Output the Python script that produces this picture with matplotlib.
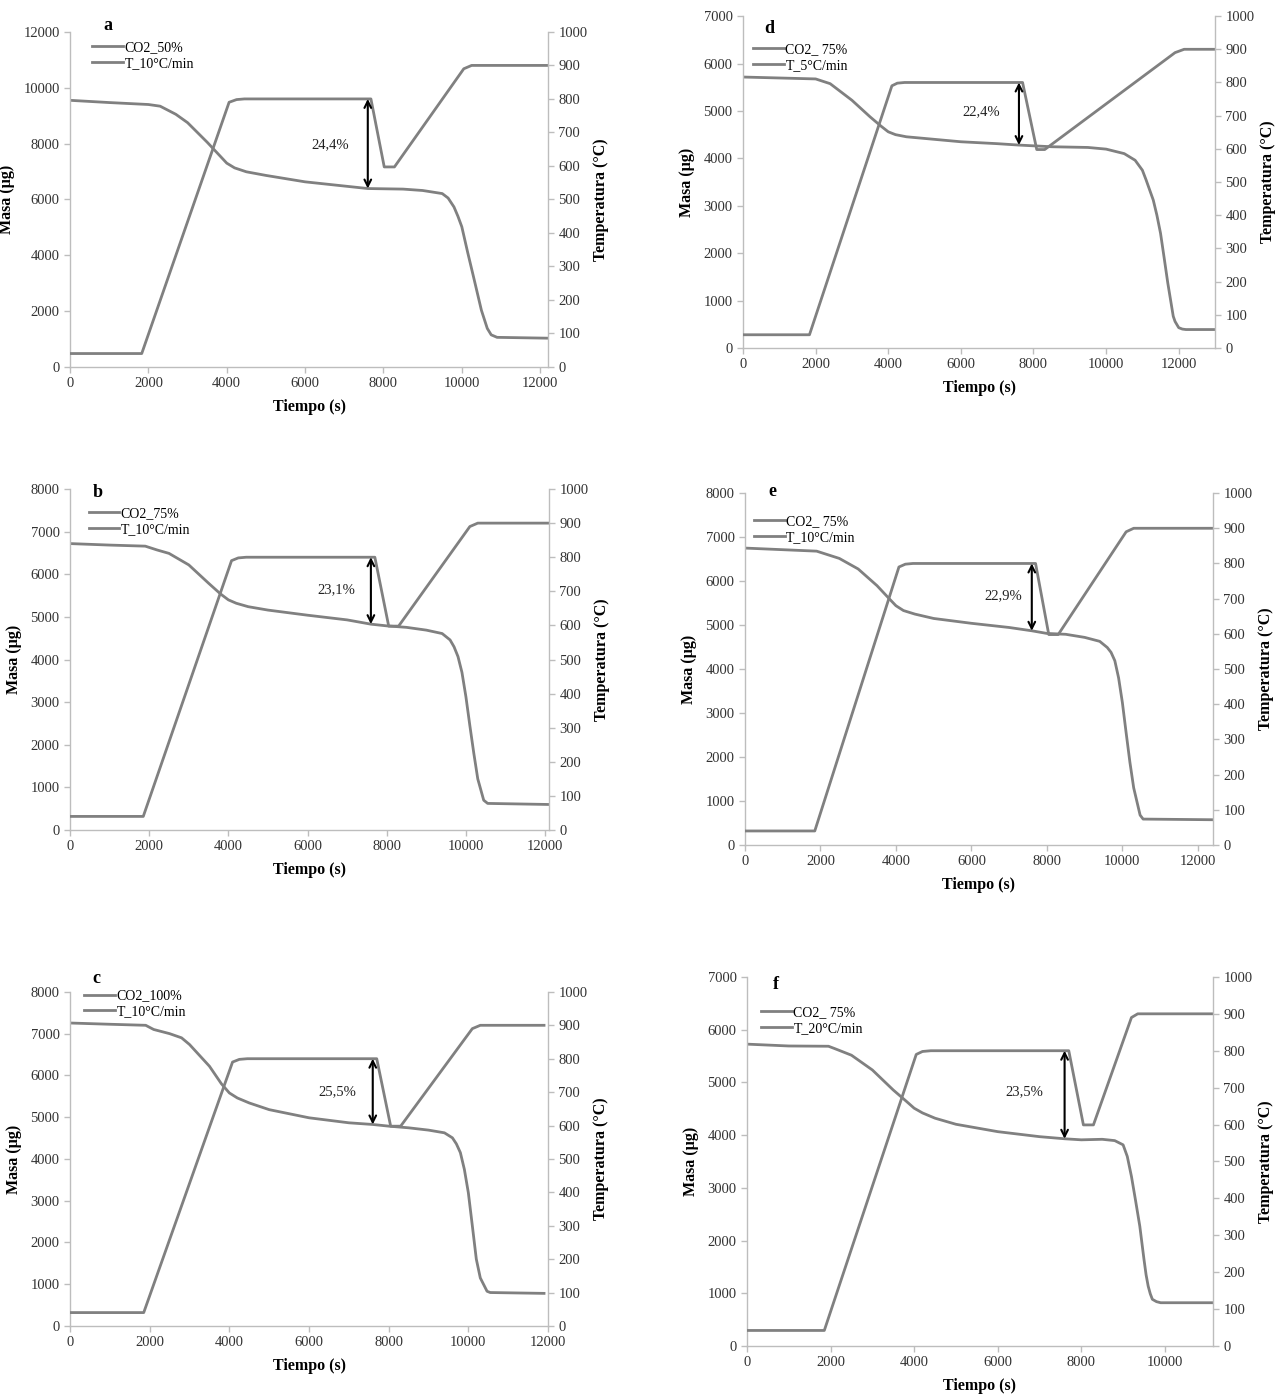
import numpy as np
import matplotlib
matplotlib.use("Agg")
import matplotlib.pyplot as plt

plt.rcParams['font.family'] = ['Liberation Serif', 'DejaVu Serif']

GRAY = '#808080'
SPINE = '#bdbdbd'

# --- panel a: CO2 50 %, 10 C/min ---
t_masa_a = [0, 1000, 2000, 2300, 2700, 3000, 3500, 3700, 4000, 4200, 4500, 5000, 6000,
            7000, 7600, 8500, 9000, 9500, 9650, 9800, 9900, 10000, 10150, 10300, 10500,
            10650, 10750, 10900, 12200]
masa_a = [9550, 9470, 9400, 9340, 9050, 8750, 8050, 7750, 7300, 7130, 6990, 6860, 6630,
          6480, 6390, 6370, 6320, 6210, 6050, 5730, 5400, 5020, 4100, 3220, 2030,
          1380, 1150, 1060, 1030]
t_temp_a = [0, 1830, 4060, 4250, 4450, 7680, 8020, 8280, 10050, 10250, 12200]
temp_a = [40, 40, 790, 798, 800, 800, 597, 597, 890, 900, 900]

# --- panel b: CO2 75 %, 10 C/min ---
t_masa_b = [0, 1000, 1900, 2200, 2500, 3000, 3500, 3800, 4000, 4200, 4500, 5000, 6000,
            7000, 7600, 8000, 8500, 9000, 9400, 9600, 9700, 9800, 9900, 10000, 10100,
            10200, 10300, 10450, 10550, 12100]
masa_b = [6720, 6685, 6660, 6570, 6490, 6220, 5790, 5540, 5400, 5320, 5240, 5160, 5040,
          4930, 4830, 4790, 4755, 4690, 4610, 4460, 4300, 4070, 3700, 3130, 2450,
          1800, 1200, 700, 625, 600]
t_temp_b = [0, 1850, 4080, 4250, 4450, 7700, 8050, 8300, 10100, 10300, 12100]
temp_b = [40, 40, 790, 798, 800, 800, 598, 598, 890, 900, 900]

# --- panel c: CO2 100 %, 10 C/min ---
t_masa_c = [0, 1000, 1900, 2100, 2500, 2800, 3000, 3500, 3800, 4000, 4200, 4500, 5000,
            6000, 7000, 7600, 8000, 8500, 9000, 9400, 9600, 9700, 9800, 9900, 10000,
            10100, 10200, 10300, 10470, 10550, 11900]
masa_c = [7255, 7225, 7200, 7100, 7000, 6900, 6740, 6220, 5800, 5580, 5460, 5340, 5180,
          4985, 4865, 4825, 4785, 4745, 4690, 4625, 4505, 4360, 4150, 3750, 3190,
          2400, 1600, 1150, 830, 800, 780]
t_temp_c = [0, 1850, 4080, 4250, 4450, 7700, 8050, 8300, 10100, 10300, 11900]
temp_c = [40, 40, 790, 798, 800, 800, 598, 598, 890, 900, 900]

# --- panel d: CO2 75 %, 5 C/min ---
t_masa_d = [0, 2000, 2400, 3000, 3500, 3800, 4000, 4200, 4500, 5000, 6000, 7000, 7600,
            8500, 9500, 10000, 10500, 10800, 11000, 11100, 11300, 11400, 11500, 11600,
            11700, 11850, 11900, 12000, 12100, 12200, 13000]
masa_d = [5715, 5675, 5575, 5225, 4875, 4680, 4560, 4500, 4455, 4420, 4350, 4310, 4280,
          4245, 4230, 4195, 4100, 3960, 3750, 3550, 3120, 2800, 2420, 1900,
          1370, 670, 560, 430, 400, 390, 390]
t_temp_d = [0, 1830, 4100, 4250, 4450, 7700, 8090, 8310, 11900, 12150, 13000]
temp_d = [40, 40, 790, 798, 800, 800, 598, 598, 890, 900, 900]

# --- panel e: CO2 75 %, 10 C/min ---
t_masa_e = [0, 1900, 2500, 3000, 3500, 3800, 4000, 4200, 4500, 5000, 6000, 7000, 7600,
            8000, 8500, 9000, 9400, 9600, 9700, 9800, 9900, 10000, 10100, 10200, 10300,
            10470, 10550, 12400]
masa_e = [6750, 6680, 6515, 6275, 5895, 5620, 5440, 5330, 5250, 5150, 5040, 4945, 4870,
          4810, 4790, 4720, 4630, 4490, 4380, 4190, 3800, 3240, 2550, 1880, 1300,
          680, 590, 575]
t_temp_e = [0, 1850, 4080, 4250, 4450, 7700, 8050, 8300, 10100, 10300, 12400]
temp_e = [40, 40, 790, 798, 800, 800, 598, 598, 890, 900, 900]

# --- panel f: CO2 75 %, 20 C/min ---
t_masa_f = [0, 1000, 1950, 2100, 2500, 3000, 3500, 3800, 4000, 4200, 4500, 5000, 6000,
            7000, 7600, 8000, 8500, 8800, 9000, 9100, 9200, 9300, 9400, 9500, 9550,
            9600, 9650, 9700, 9800, 9900, 11150]
masa_f = [5725, 5690, 5685, 5640, 5515, 5235, 4855, 4650, 4510, 4420, 4320, 4205, 4065,
          3970, 3930, 3910, 3920, 3895, 3815, 3595, 3215, 2750, 2270, 1640, 1350,
          1135, 990, 885, 840, 820, 820]
t_temp_f = [0, 1850, 4050, 4200, 4400, 7700, 8050, 8290, 9200, 9350, 11150]
temp_f = [42, 42, 790, 798, 800, 800, 599, 599, 890, 900, 900]

paneles = [
    dict(letra='a', tm=t_masa_a, m=masa_a, tt=t_temp_a, T=temp_a,
         lab_m='CO2_50%', lab_t='T_10°C/min', pct='24,4%', pct_xy=(6650, 7950),
         ymax=12000, ystep=2000, xmax=12200,
         rect=[0.0548, 0.7379, 0.374, 0.2393], letra_xy=(0.08, 1.02),
         ley_xy=(0.047, 0.930)),
    dict(letra='d', tm=t_masa_d, m=masa_d, tt=t_temp_d, T=temp_d,
         lab_m='CO2_ 75%', lab_t='T_5°C/min', pct='22,4%', pct_xy=(6550, 4980),
         ymax=7000, ystep=1000, xmax=13000,
         rect=[0.5814, 0.7514, 0.3693, 0.2371], letra_xy=(0.056, 0.962),
         ley_xy=(0.022, 0.876)),
    dict(letra='b', tm=t_masa_b, m=masa_b, tt=t_temp_b, T=temp_b,
         lab_m='CO2_75%', lab_t='T_10°C/min', pct='23,1%', pct_xy=(6720, 5630),
         ymax=8000, ystep=1000, xmax=12100,
         rect=[0.0548, 0.4071, 0.3748, 0.2436], letra_xy=(0.058, 0.99),
         ley_xy=(0.039, 0.905)),
    dict(letra='e', tm=t_masa_e, m=masa_e, tt=t_temp_e, T=temp_e,
         lab_m='CO2_ 75%', lab_t='T_10°C/min', pct='22,9%', pct_xy=(6840, 5670),
         ymax=8000, ystep=1000, xmax=12400,
         rect=[0.5829, 0.3964, 0.3662, 0.2514], letra_xy=(0.059, 1.005),
         ley_xy=(0.020, 0.897)),
    dict(letra='c', tm=t_masa_c, m=masa_c, tt=t_temp_c, T=temp_c,
         lab_m='CO2_100%', lab_t='T_10°C/min', pct='25,5%', pct_xy=(6715, 5600),
         ymax=8000, ystep=1000, xmax=12000,
         rect=[0.0548, 0.0529, 0.374, 0.2386], letra_xy=(0.056, 1.04),
         ley_xy=(0.030, 0.964)),
    dict(letra='f', tm=t_masa_f, m=masa_f, tt=t_temp_f, T=temp_f,
         lab_m='CO2_ 75%', lab_t='T_20°C/min', pct='23,5%', pct_xy=(6630, 4820),
         ymax=7000, ystep=1000, xmax=11150,
         rect=[0.5845, 0.0386, 0.3646, 0.2636], letra_xy=(0.061, 0.98),
         ley_xy=(0.031, 0.882)),
]

T_FLECHA = 7600


def dibujar_panel(fig, p):
    ax = fig.add_axes(p['rect'])
    ax2 = ax.twinx()

    l1, = ax.plot(p['tm'], p['m'], color=GRAY, lw=2.0, solid_joinstyle='round')
    l2, = ax2.plot(p['tt'], p['T'], color=GRAY, lw=2.0, solid_joinstyle='round')

    ax.set_xlim(0, p['xmax'])
    ax.set_ylim(0, p['ymax'])
    ax2.set_ylim(0, 1000)
    ax.set_xticks(np.arange(0, p['xmax'] + 1, 2000))
    ax.set_yticks(np.arange(0, p['ymax'] + 1, p['ystep']))
    ax2.set_yticks(np.arange(0, 1001, 100))

    for a in (ax, ax2):
        a.spines['top'].set_visible(False)
        for s in ('left', 'right', 'bottom'):
            a.spines[s].set_color(SPINE)
            a.spines[s].set_linewidth(1.0)
        a.tick_params(colors=SPINE, labelcolor='#333333', labelsize=10.5,
                      length=4, width=1.0)
    ax.spines['right'].set_visible(False)
    ax2.spines['left'].set_visible(False)
    ax2.spines['bottom'].set_visible(False)

    ax.set_xlabel('Tiempo (s)', fontsize=11.5, fontweight='bold', labelpad=6)
    ax.set_ylabel('Masa (µg)', fontsize=11.5, fontweight='bold', labelpad=6)
    ax2.set_ylabel('Temperatura (°C)', fontsize=11.5, fontweight='bold', labelpad=4)

    # flecha entre la masa y la meseta de 800 C
    m_flecha = np.interp(T_FLECHA, p['tm'], p['m'])
    ax2.annotate('', xy=(T_FLECHA, 800), xycoords='data',
                 xytext=(T_FLECHA, m_flecha), textcoords=ax.transData,
                 arrowprops=dict(arrowstyle='<->', color='black', lw=1.5,
                                 shrinkA=0, shrinkB=0, mutation_scale=12))
    ax.text(p['pct_xy'][0], p['pct_xy'][1], p['pct'], fontsize=10.5,
            ha='center', va='center', color='#222222')

    ax.text(p['letra_xy'][0], p['letra_xy'][1], p['letra'], transform=ax.transAxes,
            fontsize=13, fontweight='bold', ha='center', va='center')

    ax2.legend([l1, l2], [p['lab_m'], p['lab_t']], loc='center left',
               bbox_to_anchor=p['ley_xy'], frameon=False, fontsize=10,
               handlelength=2.2, handletextpad=0.1, labelspacing=0.2,
               borderaxespad=0, borderpad=0)


fig = plt.figure(figsize=(12.78, 14.0), dpi=100)
for p in paneles:
    dibujar_panel(fig, p)

fig.savefig('out.png', dpi=100, facecolor='white')
